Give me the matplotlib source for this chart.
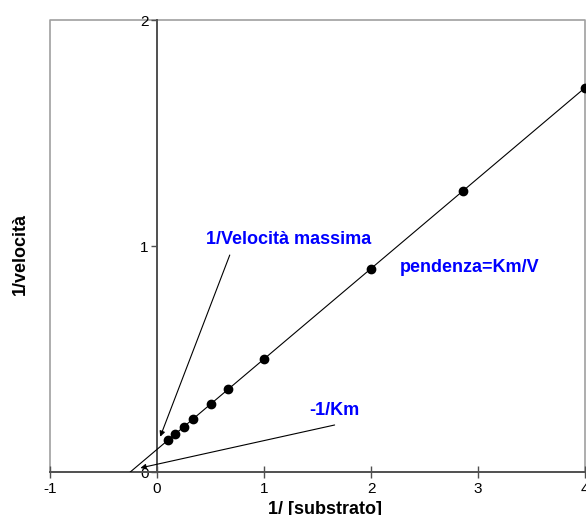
import numpy as np
import matplotlib
matplotlib.use("Agg")
import matplotlib.pyplot as plt

plt.rcParams['font.family'] = ['Liberation Sans', 'DejaVu Sans']

# Lineweaver-Burk data: reciprocal substrate concentration vs reciprocal velocity
inv_substrate = [0.1, 0.1667, 0.25, 0.3333, 0.5, 0.6667, 1.0, 2.0, 2.857, 4.0]
inv_velocity = [0.14, 0.1667, 0.2, 0.2333, 0.3, 0.3667, 0.5, 0.9, 1.243, 1.7]

x_ticks = [-1, 0, 1, 2, 3, 4]
y_ticks = [0, 1, 2]

fig = plt.figure(figsize=(5.86, 5.15), dpi=100)
ax = fig.add_axes([50 / 586, 43 / 515, 535 / 586, 452 / 515])
ax.set_xlim(-1, 4)
ax.set_ylim(0, 2)

frame_gray = '#a0a0a0'
axis_gray = '#505050'

# outer frame
ax.plot([0, 0, 1, 1], [0, 1, 1, 0], transform=ax.transAxes,
        color=frame_gray, lw=1.2, clip_on=False, zorder=1)

for side in ('top', 'right'):
    ax.spines[side].set_visible(False)
ax.spines['left'].set_position(('data', 0))
ax.spines['left'].set_color(axis_gray)
ax.spines['left'].set_linewidth(1.4)
ax.spines['bottom'].set_color(axis_gray)
ax.spines['bottom'].set_linewidth(1.4)

ax.set_xticks(x_ticks)
ax.set_xticklabels([str(t) for t in x_ticks])
ax.set_yticks(y_ticks)
ax.set_yticklabels([str(t) for t in y_ticks])
ax.tick_params(axis='x', direction='inout', length=8, width=1, color=axis_gray,
               labelsize=11, pad=3)
ax.tick_params(axis='y', direction='out', length=4, width=1, color=axis_gray,
               labelsize=11, pad=2)

# fitted line from the x-intercept (-1/Km) to the right edge
slope, intercept = np.polyfit(inv_substrate, inv_velocity, 1)
x0 = -intercept / slope
xs = np.array([x0, 4.0])
ax.plot(xs, intercept + slope * xs, color='black', lw=0.8, zorder=3)
ax.plot(inv_substrate, inv_velocity, 'o', color='black', markersize=6, zorder=4)

arrow = dict(arrowstyle='-|>', lw=0.8, color='black', mutation_scale=8,
             shrinkA=0, shrinkB=0)
ax.annotate('', xy=(0.03, 0.156), xytext=(0.68, 0.96), arrowprops=arrow)
ax.annotate('', xy=(-0.155, 0.018), xytext=(1.66, 0.208), arrowprops=arrow)

blue = '#0000ff'
ax.text(0.46, 1.03, '1/Velocità massima', color=blue, fontsize=13,
        fontweight='bold', ha='left', va='center')
ax.text(2.27, 0.907, 'pendenza=Km/V', color=blue, fontsize=13,
        fontweight='bold', ha='left', va='center')
ax.text(1.42, 0.274, '-1/Km', color=blue, fontsize=13,
        fontweight='bold', ha='left', va='center')

fig.text(325 / 586, 1 - 509 / 515, '1/ [substrato]', fontsize=13,
         fontweight='bold', ha='center', va='center')
fig.text(20 / 586, 1 - 254 / 515, '1/velocità', fontsize=13,
         fontweight='bold', ha='center', va='center', rotation=90)

fig.savefig('out.png', dpi=100)
